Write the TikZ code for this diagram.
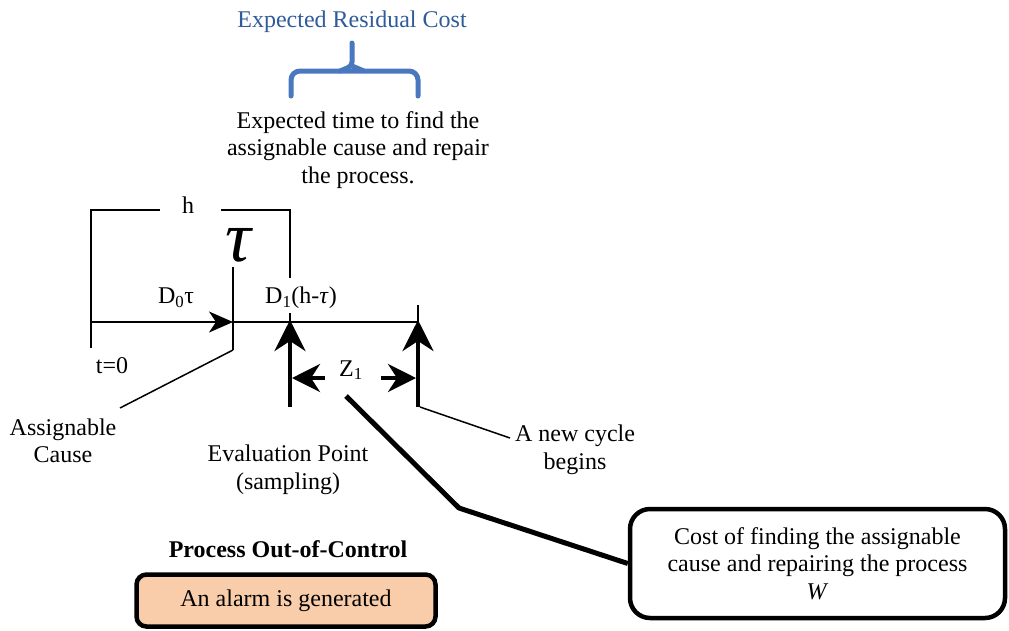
\documentclass[tikz,border=0pt]{standalone}
\usepackage{fontspec}
\setmainfont{Liberation Serif}
\usetikzlibrary{arrows.meta}
\definecolor{braceblue}{HTML}{4A78BE}
\definecolor{titleblue}{HTML}{2F5B9A}
\definecolor{alarmfill}{HTML}{F9CCAA}
\begin{document}
\begin{tikzpicture}[x=1pt,y=-1pt,
  lbl/.style={font=\fontsize{24}{27.5}\selectfont, align=center, inner sep=0pt},
  rule/.style={line width=1.8pt},
  heavy/.style={line width=4.5pt},
  bigtip/.style={-{Stealth[length=31pt,width=31pt,inset=10pt]}},
  smalltip/.style={-{Stealth[length=24pt,width=21pt,inset=7pt]}},
  ztip/.style={-{Stealth[length=28pt,width=28pt,inset=9pt]}},
  boxstyle/.style={draw, line width=4.5pt, align=center, inner sep=0pt,
    font=\fontsize{24}{27.5}\selectfont}]
\useasboundingbox (0,0) rectangle (1009,630);

% title and brace
\node[lbl, text=titleblue] (title) at (352,22) {Expected Residual Cost};
\draw[braceblue, line width=5pt, line cap=round, rounded corners=9pt]
  (291,96) -- (291,71) -- (418,71) -- (418,96);
\draw[braceblue, line width=5pt, line cap=round, rounded corners=4pt]
  (340,71) -- (352,66) -- (352,43);
\draw[braceblue, line width=5pt, rounded corners=4pt]
  (364,71) -- (352,66);
\node[lbl] (repair) at (358,150) {Expected time to find the\\assignable cause and repair\\the process.};

% cycle length h
\coordinate (t0top) at (91,210);
\coordinate (t0bot) at (91,348);
\coordinate (hL) at (160,210);
\coordinate (hR) at (221,210);
\coordinate (hend) at (290,210);
\coordinate (hdown) at (290,278);
\node[lbl] (h) at (188,205) {h};
\draw[rule] (t0bot) -- (t0top) -- (hL);
\draw[rule] (hR) -- (hend) -- (hdown);

% shift instant tau
\node[inner sep=0pt, font=\fontsize{72}{72}\selectfont\itshape] (tau) at (238,245) {τ};
\coordinate (tautop) at (233,267);
\coordinate (taubot) at (233,350);
\draw[rule] (tautop) -- (taubot);

% time axis
\coordinate (axisL) at (91,322);
\coordinate (axisM) at (233,322);
\coordinate (axisR) at (418,322);
\draw[rule, smalltip] (axisL) -- (axisM);
\draw[rule] (axisM) -- (axisR);
\node[lbl] (d0) at (176,298) {D\textsubscript{0}τ};
\node[lbl] (d1) at (301,298) {D\textsubscript{1}(h-\textit{τ})};
\node[lbl] (t0) at (112,366) {t=0};

% evaluation point and new cycle
\coordinate (evalbot) at (290,407);
\coordinate (evaltop) at (290,320);
\coordinate (evalcap) at (290,313);
\coordinate (newbot) at (418,407);
\coordinate (newtop) at (418,320);
\coordinate (newcap) at (418,305);
\draw[rule] (evalcap) -- (290,330);
\draw[rule] (newcap) -- (418,330);
\draw[heavy, bigtip] (evalbot) -- (evaltop);
\draw[heavy, bigtip] (newbot) -- (newtop);

% interval Z1
\node[lbl] (z1) at (351,370) {Z\textsubscript{1}};
\coordinate (zL0) at (325,378);
\coordinate (zL1) at (292,378);
\coordinate (zR0) at (381,378);
\coordinate (zR1) at (416,378);
\draw[line width=4pt, ztip] (zL0) -- (zL1);
\draw[line width=4pt, ztip] (zR0) -- (zR1);

% labels with leader lines
\node[lbl] (cause) at (63,441) {Assignable\\Cause};
\draw[line width=1.5pt] (taubot) -- (120,408);
\node[lbl] (eval) at (288,470) {Evaluation Point\\(sampling)};
\node[lbl] (cycle) at (575,450) {A new cycle\\begins};
\draw[line width=1.5pt] (420,407) -- (510,438);

% out-of-control state
\node[lbl, font=\fontsize{24}{27.5}\selectfont\bfseries] (ooc) at (288,549) {Process Out-of-Control};
\node[boxstyle, fill=alarmfill, rounded corners=10pt, minimum width=299pt, minimum height=52pt] (alarm) at (286,600.5) {An alarm is generated};

% cost callout
\node[boxstyle, fill=white, rounded corners=20pt, minimum width=375pt, minimum height=109pt] (cost) at (817.5,563.5)
  {Cost of finding the assignable\\cause and repairing the process\\\textit{W}};
\coordinate (callA) at (346,396);
\coordinate (callB) at (459,508);
\draw[line width=5pt, line join=round] (callA) -- (callB) -- (cost.west);
\end{tikzpicture}
\end{document}
